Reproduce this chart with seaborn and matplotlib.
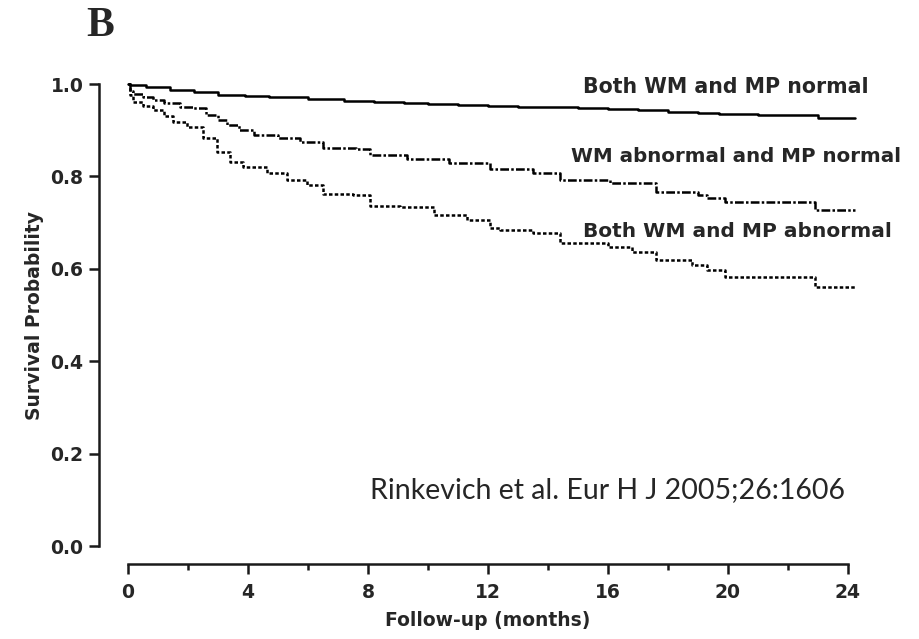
import matplotlib
matplotlib.use("Agg")
import matplotlib.pyplot as plt
from matplotlib.ticker import MultipleLocator
import pandas as pd
import seaborn as sns

# Kaplan-Meier survival by wall motion (WM) / myocardial perfusion (MP) status
groups = ["Both WM and MP normal", "WM abnormal and MP normal", "Both WM and MP abnormal"]

months_normal = [0, 0.05, 0.6, 1.4, 2.2, 3.0, 3.9, 4.7, 6.0, 7.2, 8.2, 9.2, 10.0,
                 11.0, 12.0, 13.0, 14.1, 15.0, 16.0, 17.0, 18.0, 19.0, 19.7,
                 21.0, 23.0, 24.25]
surv_normal = [1.0, 0.997, 0.993, 0.987, 0.982, 0.977, 0.974, 0.972, 0.968,
               0.964, 0.961, 0.959, 0.957, 0.955, 0.953, 0.951, 0.950, 0.948,
               0.945, 0.943, 0.940, 0.937, 0.935, 0.933, 0.926, 0.926]

months_wm = [0, 0.05, 0.17, 0.5, 0.83, 1.2, 1.73, 2.17, 2.6, 3.0, 3.3, 3.7, 4.2,
             5.0, 5.73, 6.5, 7.6, 8.07, 9.3, 10.7, 12.07, 13.5, 14.4, 16.07,
             17.6, 19.0, 19.3, 19.9, 22.9, 24.25]
surv_wm = [1.0, 0.985, 0.978, 0.972, 0.965, 0.958, 0.950, 0.948, 0.933, 0.922,
           0.911, 0.900, 0.890, 0.883, 0.874, 0.861, 0.859, 0.846, 0.838, 0.829,
           0.816, 0.807, 0.792, 0.786, 0.766, 0.760, 0.753, 0.745, 0.727, 0.727]

months_both = [0, 0.05, 0.17, 0.5, 0.83, 1.2, 1.5, 1.97, 2.5, 2.97, 3.4, 3.83,
               4.63, 5.3, 5.97, 6.5, 7.5, 8.07, 9.07, 10.2, 11.3, 12.07, 12.4,
               13.5, 14.4, 16.0, 16.8, 17.6, 18.8, 19.3, 19.9, 22.9, 24.25]
surv_both = [1.0, 0.976, 0.961, 0.952, 0.944, 0.930, 0.918, 0.907, 0.883, 0.853,
             0.831, 0.820, 0.807, 0.792, 0.781, 0.762, 0.760, 0.736, 0.733, 0.716,
             0.706, 0.689, 0.684, 0.677, 0.656, 0.647, 0.636, 0.619, 0.608, 0.597,
             0.582, 0.561, 0.561]

x_ticks = [0, 4, 8, 12, 16, 20, 24]
y_ticks = [0.0, 0.2, 0.4, 0.6, 0.8, 1.0]
y_tick_labels = ["0.0", "0.2", "0.4", "0.6", "0.8", "1.0"]

frames = []
for name, t, s in zip(groups, [months_normal, months_wm, months_both],
                      [surv_normal, surv_wm, surv_both]):
    frames.append(pd.DataFrame({"month": t, "survival": s, "group": name}))
df = pd.concat(frames, ignore_index=True)

sns.set_style("ticks")
plt.rcParams["font.family"] = ["DejaVu Sans"]
plt.rcParams["axes.linewidth"] = 1.8

fig = plt.figure(figsize=(9.2, 6.39), dpi=100)
ax = fig.add_axes([128 / 920, 93 / 639, 729 / 920, 462 / 639])

line_dashes = {
    groups[0]: "",
    groups[1]: (3.5, 0.9, 1.0, 0.9),
    groups[2]: (1.4, 0.9),
}
sns.lineplot(data=df, x="month", y="survival", style="group", dashes=line_dashes,
             color="black", linewidth=1.8, estimator=None, sort=False,
             drawstyle="steps-post", legend=False, clip_on=False, ax=ax)

ax.set_xlim(0, 24.3)
ax.set_ylim(0, 1.0)
ax.set_xticks(x_ticks)
ax.set_xticklabels([str(v) for v in x_ticks])
ax.xaxis.set_minor_locator(MultipleLocator(2))
ax.set_yticks(y_ticks)
ax.set_yticklabels(y_tick_labels)

for sp in ["top", "right"]:
    ax.spines[sp].set_visible(False)
ax.spines["left"].set_position(("outward", 21))
ax.spines["bottom"].set_position(("outward", 13))
ax.spines["left"].set_bounds(0, 1.0)
ax.spines["bottom"].set_bounds(0, 24)
for sp in ["left", "bottom"]:
    ax.spines[sp].set_color("#1a1a1a")

ax.tick_params(axis="both", which="major", direction="out", length=7, width=1.8,
               color="#1a1a1a", labelsize=13.5)
ax.tick_params(axis="x", which="minor", direction="out", length=4.5, width=1.8,
               color="#1a1a1a")
ax.tick_params(axis="x", which="major", pad=7)
ax.tick_params(axis="y", which="major", pad=4)
for lab in ax.get_xticklabels() + ax.get_yticklabels():
    lab.set_fontweight("bold")

ax.set_xlabel("Follow-up (months)", fontsize=13.5, fontweight="bold")
ax.set_ylabel("Survival Probability", fontsize=13.5, fontweight="bold")
ax.xaxis.set_label_coords(12 / 24.3, -0.141)
ax.yaxis.set_label_coords(-0.115, 0.5)

# curve labels
ax.text(15.17, 0.994, groups[0], fontsize=14.8, fontweight="bold", va="center", ha="left")
ax.text(14.77, 0.842, groups[1], fontsize=14.3, fontweight="bold", va="center", ha="left")
ax.text(15.17, 0.680, groups[2], fontsize=14.5, fontweight="bold", va="center", ha="left")

ax.text(8.07, 0.121, "Rinkevich et al. Eur H J 2005;26:1606", fontsize=20.5,
        family=["Lato", "DejaVu Sans"], va="center", ha="left")

fig.text(100 / 920, 1 - 26 / 639, "B", fontsize=30, fontweight="bold",
         family=["Liberation Serif", "DejaVu Serif"], ha="center", va="center")

fig.savefig("out.png", dpi=100, facecolor="white")
